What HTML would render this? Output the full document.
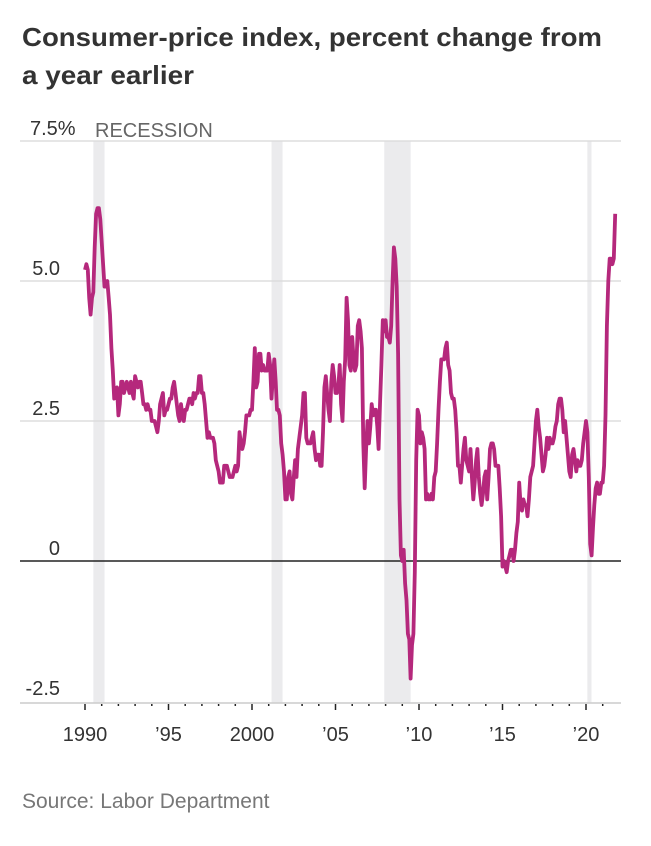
<!DOCTYPE html>
<html><head><meta charset="utf-8"><style>
html,body{margin:0;padding:0;background:#fff;}
svg{display:block;font-family:"Liberation Sans",sans-serif;}
</style></head><body>
<svg id="chart" width="651" height="846" viewBox="0 0 651 846">
<text x="22" y="46" font-size="26" font-weight="bold" fill="#333" textLength="580" lengthAdjust="spacingAndGlyphs">Consumer-price index, percent change from</text>
<text x="22" y="84" font-size="26" font-weight="bold" fill="#333" textLength="172" lengthAdjust="spacingAndGlyphs">a year earlier</text>
<g id="bands"></g>
<g id="grid"></g>
<g id="xaxis"></g>
<path id="line" fill="none" stroke="#b5287c" stroke-width="3.8" stroke-linejoin="round"></path>
<text x="95" y="137" font-size="20" fill="#666">RECESSION</text>
<text x="22" y="808" font-size="21" fill="#777">Source: Labor Department</text>
</svg>
<script>
const yTicks=[7.5,5.0,2.5,0,-2.5];
const yTickLabels=["7.5%","5.0","2.5","0","-2.5"];
const xTickYears=[1990,1995,2000,2005,2010,2015,2020];
const xTickLabels=["1990","\u201995","2000","\u201905","\u201910","\u201915","\u201920"];
const recessionStarts=[1990.5,2001.17,2007.92,2020.08];
const recessionEnds=[1991.17,2001.83,2009.5,2020.33];
const startYear=1990;
const cpiValues=[
5.2,5.3,5.2,4.7,4.4,4.7,4.8,5.6,6.2,6.3,6.3,6.1,
5.7,5.3,4.9,4.9,5.0,4.7,4.4,3.8,3.4,2.9,3.0,3.1,
2.6,2.8,3.2,3.2,3.0,3.1,3.2,3.1,3.0,3.2,3.0,2.9,
3.3,3.2,3.1,3.2,3.2,3.0,2.8,2.8,2.7,2.8,2.7,2.7,
2.5,2.5,2.5,2.4,2.3,2.5,2.8,2.9,3.0,2.6,2.7,2.7,
2.8,2.9,2.9,3.1,3.2,3.0,2.8,2.6,2.5,2.8,2.6,2.5,
2.7,2.7,2.8,2.9,2.9,2.8,3.0,2.9,3.0,3.0,3.3,3.3,
3.0,3.0,2.8,2.5,2.2,2.3,2.2,2.2,2.2,2.1,1.8,1.7,
1.6,1.4,1.4,1.4,1.7,1.7,1.7,1.6,1.5,1.5,1.5,1.6,
1.7,1.6,1.7,2.3,2.1,2.0,2.1,2.3,2.6,2.6,2.6,2.7,
2.7,3.2,3.8,3.1,3.2,3.7,3.7,3.4,3.5,3.4,3.4,3.4,
3.7,3.5,2.9,3.3,3.6,3.2,2.7,2.7,2.6,2.1,1.9,1.6,
1.1,1.1,1.5,1.6,1.2,1.1,1.5,1.8,1.5,2.0,2.2,2.4,
2.6,3.0,3.0,2.2,2.1,2.1,2.1,2.2,2.3,2.0,1.8,1.9,
1.9,1.7,1.7,2.3,3.1,3.3,3.0,2.7,2.5,3.2,3.5,3.3,
3.0,3.0,3.1,3.5,2.8,2.5,3.2,3.6,4.7,4.3,3.5,3.4,
4.0,3.6,3.4,3.5,4.2,4.3,4.1,3.8,2.1,1.3,2.0,2.5,
2.1,2.4,2.8,2.6,2.7,2.7,2.4,2.0,2.8,3.5,4.3,4.1,
4.3,4.0,4.0,3.9,4.2,5.0,5.6,5.4,4.9,3.7,1.1,0.1,
0.0,0.2,-0.4,-0.7,-1.3,-1.4,-2.1,-1.5,-1.3,-0.2,1.8,2.7,
2.6,2.1,2.3,2.2,2.0,1.1,1.2,1.1,1.1,1.2,1.1,1.5,
1.6,2.1,2.7,3.2,3.6,3.6,3.6,3.8,3.9,3.5,3.4,3.0,
2.9,2.9,2.7,2.3,1.7,1.7,1.4,1.7,2.0,2.2,1.8,1.7,
1.6,2.0,1.5,1.1,1.4,1.8,2.0,1.5,1.2,1.0,1.2,1.5,
1.6,1.1,1.5,2.0,2.1,2.1,2.0,1.7,1.7,1.7,1.3,0.8,
-0.1,0.0,-0.1,-0.2,0.0,0.1,0.2,0.2,0.0,0.2,0.5,0.7,
1.4,1.0,0.9,1.1,1.0,1.0,0.8,1.1,1.5,1.6,1.7,2.1,
2.5,2.7,2.4,2.2,1.9,1.6,1.7,1.9,2.2,2.0,2.2,2.1,
2.1,2.2,2.4,2.5,2.8,2.9,2.9,2.7,2.3,2.5,2.2,1.9,
1.6,1.5,1.9,2.0,1.8,1.6,1.8,1.7,1.7,1.8,2.1,2.3,
2.5,2.3,1.5,0.3,0.1,0.6,1.0,1.3,1.4,1.2,1.2,1.4,
1.4,1.7,2.6,4.2,5.0,5.4,5.4,5.3,5.4,6.2];

const NS="http://www.w3.org/2000/svg";
function xs(yr){return 85+(yr-1990)*16.7;}
function ys(v){return 561-v*56;}
function mk(tag,attrs,parent){const e=document.createElementNS(NS,tag);for(const k in attrs)e.setAttribute(k,attrs[k]);parent.appendChild(e);return e;}
const bandsG=document.getElementById('bands'),gridG=document.getElementById('grid'),xaG=document.getElementById('xaxis');
const plotTop=ys(7.5),plotBottom=703;
for(let i=0;i<recessionStarts.length;i++){
  const r=mk('rect',{x:xs(recessionStarts[i]),y:plotTop,width:Math.max(xs(recessionEnds[i])-xs(recessionStarts[i]),4),height:plotBottom-plotTop,fill:'#ebebed'},bandsG);
  
  
}
for(let i=0;i<yTicks.length;i++){
  const v=yTicks[i];
  if(v>-2.5){
    const l=mk('line',{x1:20,x2:621,y1:ys(v),y2:ys(v),stroke:v===0?'#222':'#ddd','stroke-width':1.5},gridG);
    
    
  }
  const isTop=i===0;
  const t=mk('text',{x:isTop?30:60,y:ys(v)-6,'font-size':20,fill:'#333','text-anchor':isTop?'start':'end'},gridG);
  t.textContent=yTickLabels[i];
  
  
}
const ax=mk('line',{x1:20,x2:621,y1:plotBottom,y2:plotBottom,stroke:'#ccc','stroke-width':1.5},xaG);


for(let yr=1990;yr<=2021;yr++){
  const major=xTickYears.indexOf(yr)>=0;
  const tk=mk('line',{x1:xs(yr),x2:xs(yr),y1:plotBottom+1,y2:plotBottom+(major?7:3),stroke:'#222','stroke-width':1.5},xaG);
  
  
}
for(let i=0;i<xTickYears.length;i++){
  const t=mk('text',{x:xs(xTickYears[i]),y:741,'font-size':20,fill:'#333','text-anchor':'middle'},xaG);
  t.textContent=xTickLabels[i];
  
  
}
let d='';
cpiValues.forEach((v,i)=>{d+=(i?'L':'M')+xs(startYear+i/12).toFixed(1)+' '+ys(v).toFixed(1);});
document.getElementById('line').setAttribute('d',d);
</script>
</body></html>
